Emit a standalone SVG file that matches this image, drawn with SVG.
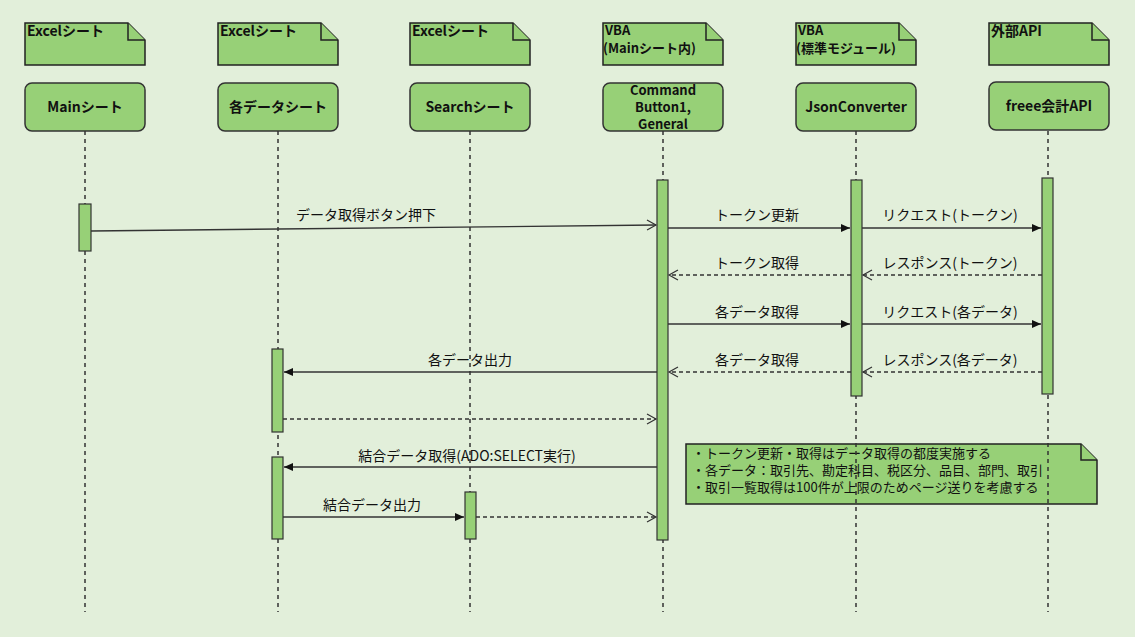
<svg xmlns="http://www.w3.org/2000/svg" width="1135" height="637" viewBox="0 0 1135 637">
<style>
text{font-family:"Noto Sans CJK JP","Noto Sans",sans-serif;font-size:14px;fill:#111}
.b{font-weight:bold}
.s{font-size:13px}
.n{fill:#97d077;stroke:#222;stroke-width:1.5}
.box{fill:#97d077;stroke:#333;stroke-width:1.5}
.life{stroke:#333;stroke-width:1.5;stroke-dasharray:4 4}
.act{fill:#97d077;stroke:#333;stroke-width:1.2}
.m{stroke:#333;stroke-width:1.3;fill:none}
.d{stroke-dasharray:4 3}
</style>
<defs>
<marker id="f" markerWidth="10" markerHeight="10" refX="9" refY="5" orient="auto" markerUnits="userSpaceOnUse"><path d="M0,1 L9,5 L0,9 z" fill="#111"/></marker>
<marker id="o" markerWidth="12" markerHeight="12" refX="10" refY="6" orient="auto" markerUnits="userSpaceOnUse"><path d="M1,1 L10,6 L1,11" fill="none" stroke="#333" stroke-width="1.2"/></marker>
</defs>
<rect width="1135" height="637" fill="#e2efda"/>
<g id="note">
<path class="n" d="M686,444 H1081 L1097,460 V504 H686 Z"/>
<path class="n" fill="none" d="M1081,444 V460 H1097"/>
<text x="692" y="458" class="s">・トークン更新・取得はデータ取得の都度実施する</text>
<text x="692" y="475" class="s">・各データ：取引先、勘定科目、税区分、品目、部門、取引</text>
<text x="692" y="492" class="s">・取引一覧取得は100件が上限のためページ送りを考慮する</text>
</g>
<g id="lifelines">
<line class="life" x1="85" y1="131" x2="85" y2="612"/>
<line class="life" x1="278" y1="131" x2="278" y2="612"/>
<line class="life" x1="470" y1="131" x2="470" y2="612"/>
<line class="life" x1="663" y1="131" x2="663" y2="612"/>
<line class="life" x1="856" y1="131" x2="856" y2="612"/>
<line class="life" x1="1048" y1="131" x2="1048" y2="612"/>
</g>
<g id="h1"><path class="n" d="M25,23 H128 L145,40 V65 H25 Z"/><path class="n" d="M128,23 V40 H145"/><text class="b" x="27" y="36">Excelシート</text></g>
<g id="h2"><path class="n" d="M218,23 H321 L338,40 V65 H218 Z"/><path class="n" d="M321,23 V40 H338"/><text class="b" x="220" y="36">Excelシート</text></g>
<g id="h3"><path class="n" d="M410,23 H513 L530,40 V65 H410 Z"/><path class="n" d="M513,23 V40 H530"/><text class="b" x="412" y="36">Excelシート</text></g>
<g id="h4"><path class="n" d="M603,23 H706 L723,40 V65 H603 Z"/><path class="n" d="M706,23 V40 H723"/><text class="b s" x="605" y="35">VBA</text><text class="b s" x="603" y="53">(Mainシート内)</text></g>
<g id="h5"><path class="n" d="M796,23 H899 L916,40 V65 H796 Z"/><path class="n" d="M899,23 V40 H916"/><text class="b s" x="798" y="35">VBA</text><text class="b s" x="796" y="53">(標準モジュール)</text></g>
<g id="h6"><path class="n" d="M989,23 H1092 L1109,40 V65 H989 Z"/><path class="n" d="M1092,23 V40 H1109"/><text class="b" x="991" y="36">外部API</text></g>
<g id="p1"><rect class="box" x="25" y="83" width="120" height="48" rx="7"/><text class="b" x="85" y="112" text-anchor="middle">Mainシート</text></g>
<g id="p2"><rect class="box" x="218" y="83" width="120" height="48" rx="7"/><text class="b" x="278" y="112" text-anchor="middle">各データシート</text></g>
<g id="p3"><rect class="box" x="410" y="83" width="120" height="48" rx="7"/><text class="b" x="470" y="112" text-anchor="middle">Searchシート</text></g>
<g id="p4"><rect class="box" x="603" y="83" width="120" height="48" rx="7"/><text class="b s" x="663" y="95" text-anchor="middle">Command</text><text class="b s" x="663" y="112" text-anchor="middle">Button1,</text><text class="b s" x="663" y="129" text-anchor="middle">General</text></g>
<g id="p5"><rect class="box" x="796" y="83" width="120" height="48" rx="7"/><text class="b" x="856" y="112" text-anchor="middle">JsonConverter</text></g>
<g id="p6"><rect class="box" x="989" y="82" width="120" height="48" rx="7"/><text class="b" x="1049" y="111" text-anchor="middle">freee会計API</text></g>
<g id="activations">
<rect class="act" x="79" y="204" width="12" height="47"/>
<rect class="act" x="657" y="180" width="11" height="360"/>
<rect class="act" x="851" y="180" width="11" height="216"/>
<rect class="act" x="1042" y="178" width="11" height="216"/>
<rect class="act" x="272" y="349" width="11" height="83"/>
<rect class="act" x="272" y="457" width="11" height="82"/>
<rect class="act" x="465" y="492" width="11" height="47"/>
</g>
<g id="connectors">
<line class="m" x1="91" y1="231" x2="656" y2="225" marker-end="url(#o)"/>
<line class="m" x1="668" y1="228" x2="850" y2="228" marker-end="url(#f)"/>
<line class="m" x1="862" y1="228" x2="1041" y2="228" marker-end="url(#f)"/>
<line class="m d" x1="1042" y1="275" x2="863" y2="275" marker-end="url(#o)"/>
<line class="m d" x1="851" y1="275" x2="669" y2="275" marker-end="url(#o)"/>
<line class="m" x1="668" y1="324" x2="850" y2="324" marker-end="url(#f)"/>
<line class="m" x1="862" y1="324" x2="1041" y2="324" marker-end="url(#f)"/>
<line class="m d" x1="1042" y1="372" x2="863" y2="372" marker-end="url(#o)"/>
<line class="m d" x1="851" y1="372" x2="669" y2="372" marker-end="url(#o)"/>
<line class="m" x1="657" y1="372" x2="284" y2="372" marker-end="url(#f)"/>
<line class="m d" x1="283" y1="419" x2="656" y2="419" marker-end="url(#o)"/>
<line class="m" x1="657" y1="467" x2="284" y2="467" marker-end="url(#f)"/>
<line class="m" x1="283" y1="517" x2="464" y2="517" marker-end="url(#f)"/>
<line class="m d" x1="476" y1="517" x2="656" y2="517" marker-end="url(#o)"/>
</g>
<g id="labels">
<text x="366" y="220" text-anchor="middle">データ取得ボタン押下</text>
<text x="757" y="220" text-anchor="middle">トークン更新</text>
<text x="950" y="220" text-anchor="middle">リクエスト(トークン)</text>
<text x="950" y="268" text-anchor="middle">レスポンス(トークン)</text>
<text x="757" y="268" text-anchor="middle">トークン取得</text>
<text x="757" y="317" text-anchor="middle">各データ取得</text>
<text x="950" y="317" text-anchor="middle">リクエスト(各データ)</text>
<text x="950" y="365" text-anchor="middle">レスポンス(各データ)</text>
<text x="757" y="365" text-anchor="middle">各データ取得</text>
<text x="470" y="365" text-anchor="middle">各データ出力</text>
<text x="467" y="461" text-anchor="middle">結合データ取得(ADO:SELECT実行)</text>
<text x="372" y="510" text-anchor="middle">結合データ出力</text>
</g>
</svg>
